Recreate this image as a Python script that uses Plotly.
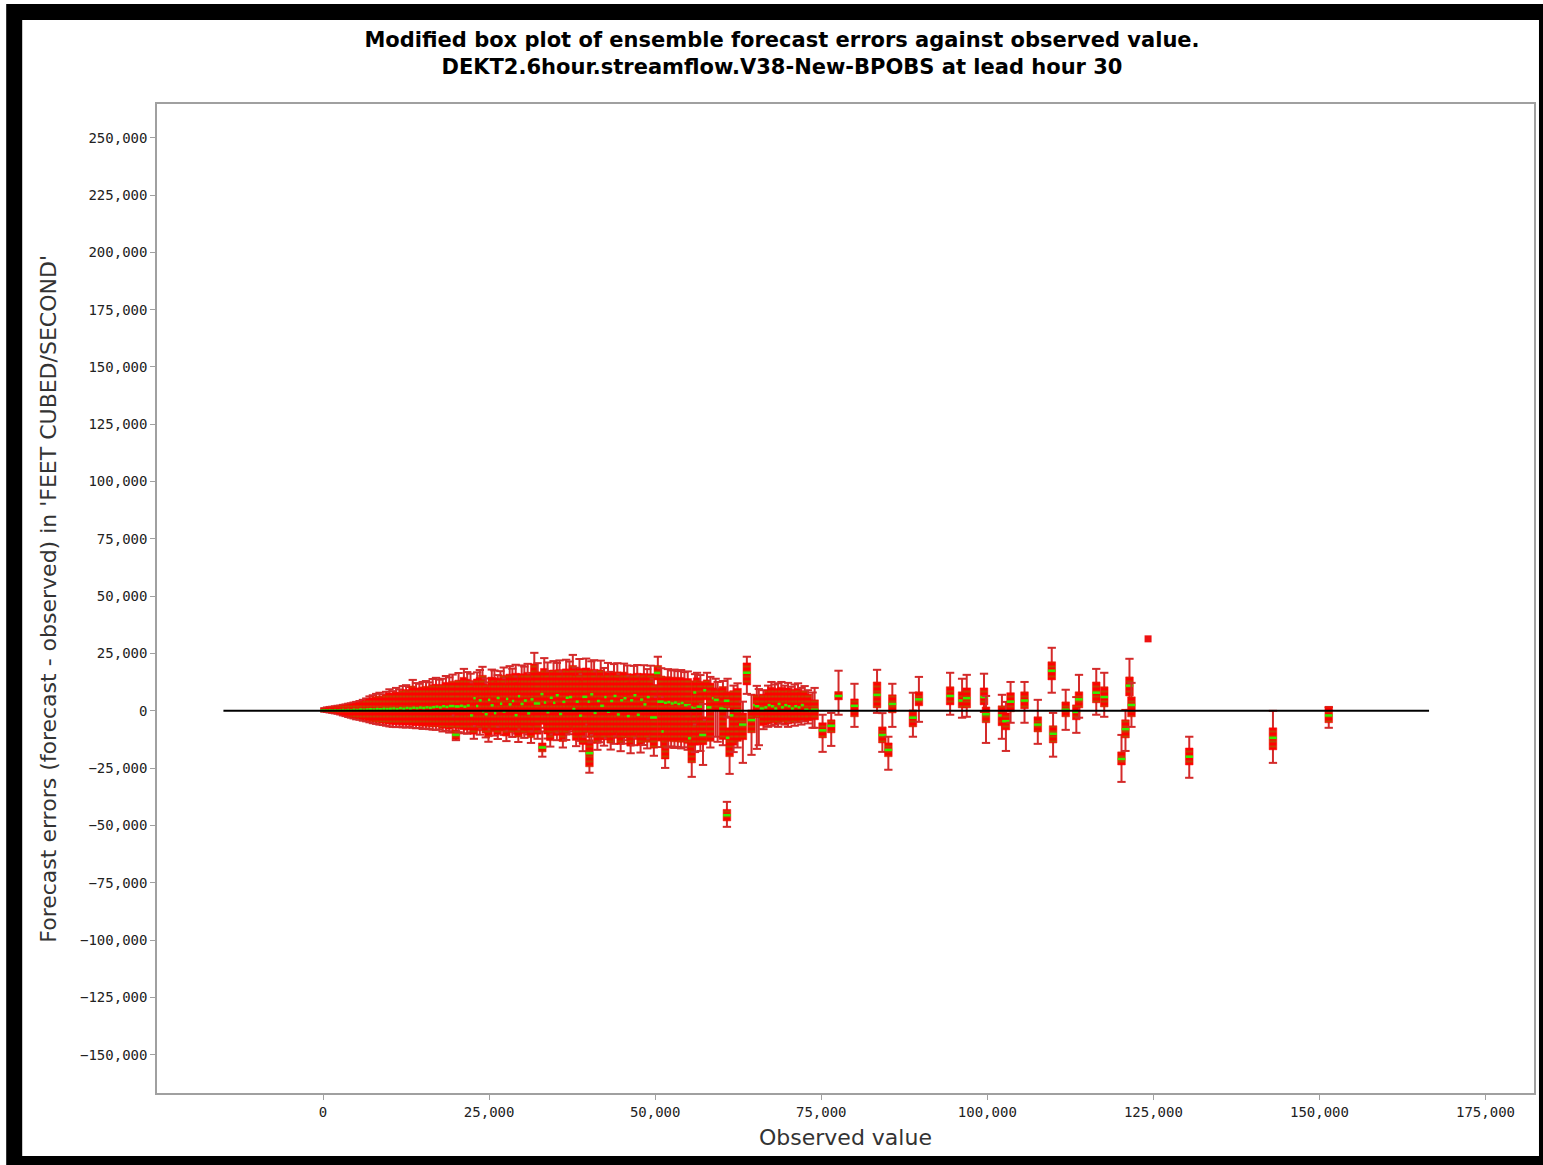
import plotly.graph_objects as go

# Observed streamflow (CFS) for each forecast, and the spread of the ensemble
# forecast errors (forecast - observed, CFS): whisker ends, box edges, median.
observed = [
    200, 600, 1000, 1400, 1800, 2200, 2600, 3000, 3400, 3800,
    4200, 4600, 5000, 5500, 6000, 6500, 7000, 7500, 8000, 8500,
    9000, 9500, 10000,
    10500, 11000, 11500, 12000, 12500, 13000, 13500, 14000, 14500, 15000,
    15500, 16000, 16500, 17000, 17500, 18000, 18500, 19000, 19500, 20000,
    20400, 21200, 21700,
    22200, 22700, 23200, 23600, 24000, 24500, 24900, 25400, 25800, 26300,
    26700, 27200, 27600, 28100, 28500, 29000, 29400, 29900, 30300, 30800,
    31300, 31800, 32300, 33000, 33300, 33800, 34200, 34700,
    35200, 35600, 36100, 36600, 37100, 37600, 38100, 38600, 39100, 39600,
    40100, 40400, 40800, 41300, 41800, 42300, 42900, 43300, 43800, 44300,
    44800, 45300, 45800, 46300, 46800, 47300, 47800, 48300, 48800, 49300,
    49800, 50400,
    50900, 51500, 51900, 52400, 52900, 53400, 53900, 54400, 54900, 55500,
    56000, 56300, 56800, 57200, 57800, 58300, 59100, 59400, 60200, 60800,
    60900, 61200, 61800, 62400, 63200, 63800, 64500, 65300, 65600, 66300,
    67000, 67500, 68000, 68500, 69000, 69500, 70000, 70500, 71000, 71500,
    72000, 72500, 73000, 73700, 74000, 75200, 76500,
    77600, 80000, 83400, 84200, 85100, 85700, 88800, 89700, 94400, 96200,
    96900, 99500, 99800, 102200, 102800, 103500, 105600, 107600, 109700, 109900,
    111800, 113400, 113800, 116400, 117600, 120200, 120800, 121400, 121700, 130400,
    143000, 151400,
]
err_low = [
    -400, -500, -700, -900, -1100, -1300, -1600, -2000, -2300, -2700,
    -3000, -3300, -3700, -3900, -4300, -4600, -5000, -5400, -5700, -6000,
    -6200, -6500, -6800,
    -7000, -7100, -6900, -7200, -7300, -7000, -7400, -7600, -7500, -7900,
    -7700, -8000, -8200, -8300, -8100, -9000, -8700, -9500, -8900, -12800,
    -9300, -9800, -10000,
    -9400, -12200, -6600, -10400, -7900, -11600, -13500, -8100, -10800, -12300,
    -7000, -10500, -13200, -8700, -11400, -9900, -13600, -8100, -11800, -10300,
    -14000, -9000, -12200, -20000, -7400, -12100, -15600, -10300,
    -12800, -9500, -16000, -12700, -10200, -9000, -15400, -13100, -17600, -11300,
    -27000, -13800, -10500, -17000, -13700, -15200, -12000, -16900, -14400, -11100,
    -17600, -14300, -12800, -18500, -15000, -11700, -18200, -14900, -16400, -12100,
    -19600, 6000,
    -15800, -24900, -16000, -15500, -16200, -15700, -16400, -15900, -17000, -28800,
    -18000, -6000, -17500, -23600, -4000, -16000, -11300, -13500, -15000, -50600,
    -2600, -27500, -18000, -16000, -22700, 7400, -19200, -16600, -15000, -8000,
    -7000, -6500, -6000, -7000, -5500, -6000, -7000, -5000, -6500, -5000,
    -6000, -4500, -5500, -7400, -7400, -17900, -15300,
    -1700, -7000, -900, -17900, -25700, -7000, -11300, -4800, -1700, -3000,
    -2600, -500, -14000, -12200, -17500, -5200, -5200, -14400, 7900, -20000,
    -8300, -9600, -3000, -1700, -2600, -31000, -17500, 400, -7000, -29200,
    -22700, -7400,
]
err_q1 = [
    -300, -400, -500, -700, -900, -1000, -1300, -1600, -1900, -2200,
    -2500, -2800, -3100, -3300, -3600, -3900, -4200, -4600, -4800, -5100,
    -5300, -5500, -5700,
    -5900, -6000, -5800, -6100, -6200, -5900, -6300, -6400, -6300, -6700,
    -6500, -6800, -6900, -7000, -6800, -7600, -7300, -8000, -7500, -12400,
    -7800, -8200, -8400,
    -7900, -10200, -5500, -8700, -6600, -9700, -11300, -6800, -9000, -10300,
    -5800, -8800, -11000, -7300, -9500, -8300, -11400, -6800, -9900, -8600,
    -11700, -6500, -10200, -17900, -5900, -10100, -13000, -8600,
    -10700, -7900, -13400, -10600, -8500, -7000, -12900, -11000, -14700, -9400,
    -24400, -11500, -8800, -14200, -11400, -12700, -10000, -14100, -12000, -9300,
    -14700, -11900, -10700, -15400, -12500, -9800, -15200, -12400, -13700, -10100,
    -16300, 13500,
    -13200, -21000, -13300, -12900, -13500, -13100, -13700, -13200, -14200, -22700,
    -15000, 1700, -14600, -14800, 4800, -13300, 900, 400, -12500, -48000,
    1300, -20000, -15000, -13300, -12600, 11300, -9600, -2600, -3000, -6500,
    -5700, -5200, -4800, -5700, -4400, -4800, -5700, -4000, -5300, -4000,
    -4800, -3600, -4400, -3000, -3900, -11800, -9600,
    4800, -2600, 1300, -14000, -20000, -900, -7000, 2200, 2600, 1300,
    1300, 2600, -5200, -6500, -8300, -400, 900, -9200, 13500, -14000,
    -2600, -3900, 1300, 3500, 1700, -23600, -11800, 6500, -2600, -23600,
    -17000, -5200,
]
err_median = [
    200, 300, 200, 300, 200, 300, 200, 300, 400, 300,
    400, 300, 500, 400, 600, 500, 600, 700, 600, 800,
    700, 900, 800,
    900, 1000, 800, 1100, 900, 1200, 1000, 1300, 1100, 1400,
    1200, 1500, 1300, 1600, 1800, 1500, 2000, 1700, 2100, -10400,
    1900, 2200, 1800,
    2300, -2000, 5500, 2100, 4600, -200, -1500, 4800, 2400, -1000,
    5600, 3100, -300, 5200, 2800, 4300, -1900, 6400, 3000, 4500,
    -1100, 5000, 3200, -16000, 7300, 3600, -600, 5700,
    3500, 6800, -1400, 3900, 5700, 6000, 800, 4000, -2100, 6100,
    -18500, 4000, 7200, -900, 4300, 2200, 6000, -400, 4300, 6500,
    -1600, 4600, 5500, -2300, 4600, 6800, -1700, 4900, 2800, 6000,
    -2900, 16500,
    4000, -9000, 3500, 3800, 3200, 3600, 3000, 3400, 2500, -12000,
    1500, 8000, 1800, -10500, 9000, 1500, 5500, 4800, 1000, -45500,
    4400, -11800, -2000, 0, -6000, 16600, -4000, 2500, 2000, 1000,
    1500, 2500, 2000, 1000, 3000, 1500, 2500, 2000, 1000, 2000,
    1500, 2500, 500, 0, 500, -8500, -6500,
    6500, 2200, 7000, -10500, -17000, 3000, -3000, 5000, 6500, 4500,
    5500, 6000, -1500, -2000, -4500, 4000, 4500, -6000, 17500, -10000,
    500, -500, 5000, 7900, 6000, -21000, -8000, 11000, 2600, -20000,
    -11800, -2000,
]
err_q3 = [
    1000, 1200, 1400, 1500, 1700, 1900, 2000, 2200, 2400, 2600,
    2800, 3000, 3300, 3600, 4000, 4500, 5200, 5700, 6200, 6400,
    6100, 6900, 7800,
    7200, 8200, 7700, 8900, 9300, 8600, 10800, 10000, 9800, 10400,
    10700, 10300, 11400, 11600, 11200, 11500, 12400, 12000, 12900, -8300,
    13400, 14600, 13800,
    13200, 10100, 13900, 14500, 15500, 11600, 10200, 14700, 14400, 12800,
    14200, 15500, 11700, 16000, 15000, 16400, 12300, 16200, 15800, 16800,
    13500, 20500, 17000, -14000, 18500, 17300, 14300, 17800,
    17100, 18000, 14100, 18300, 17600, 19800, 15400, 18500, 13100, 18700,
    -12600, 17700, 18100, 14200, 17900, 15300, 17100, 13900, 16700, 17000,
    13200, 16900, 16200, 12500, 16100, 16400, 12600, 16300, 14900, 16200,
    11500, 19800,
    15200, 0, 14900, 14400, 14700, 14200, 14600, 13800, 14100, -3900,
    13100, 14400, 12800, -2600, 13500, 12100, 10000, 9200, 10600, -43000,
    8300, -7400, 8800, 9800, -900, 20900, 400, 7000, 6000, 7300,
    9000, 10300, 9400, 9800, 10300, 9000, 10000, 8600, 9400, 9800,
    8200, 8800, 7300, 3000, 4800, -5200, -3900,
    8400, 5200, 12600, -7000, -14000, 7000, 400, 8300, 10500, 8300,
    10000, 10000, 1700, 2200, -900, 7900, 8300, -2600, 21400, -6500,
    3900, 2600, 8300, 12600, 10500, -17900, -3900, 14800, 6100, -16200,
    -7400, 1700,
]
err_high = [
    1200, 1500, 1700, 1800, 2000, 2200, 2300, 2600, 2800, 3100,
    3300, 3600, 3900, 4300, 4800, 5400, 6300, 6800, 7400, 7900,
    7200, 8300, 9400,
    8600, 10000, 9300, 10800, 11200, 10400, 13500, 12100, 11800, 12600,
    13000, 12400, 13900, 14400, 13600, 14000, 15200, 14600, 15800, -2000,
    16500, 18300, 16900,
    16200, 12400, 16800, 17800, 19200, 14100, 12400, 18000, 17600, 15600,
    17300, 18900, 14200, 19500, 18400, 20100, 15000, 19800, 19300, 20500,
    16400, 25300, 20800, -9000, 23000, 21100, 17400, 21700,
    20900, 22000, 17200, 22300, 21500, 24400, 18800, 22600, 16000, 22800,
    -6000, 21600, 22100, 17300, 21900, 18700, 20900, 17000, 20400, 20800,
    16100, 20600, 19800, 15300, 19600, 20000, 15400, 19900, 18200, 19700,
    14000, 23600,
    18600, 6000, 18200, 17600, 18000, 17300, 17800, 16900, 17200, 2000,
    16000, 16600, 15600, 3000, 16600, 14800, 14000, 12600, 13000, -39700,
    14000, -3000, 11000, 12000, 4000, 23600, 7000, 10900, 9500, 9000,
    11000, 12600, 11500, 12000, 12600, 11000, 12200, 10500, 11500, 12000,
    10000, 10800, 9000, 8000, 10000, -1700, -900,
    17500, 11800, 17900, -1000, -11300, 11800, 7900, 14800, 16600, 14000,
    15700, 16200, 6500, 7000, 3900, 12600, 12600, 4800, 27500, -900,
    9200, 6000, 15700, 18300, 16600, -10500, 400, 22700, 12200, -11300,
    0, 1700,
]

# Forecast whose ensemble collapsed to a single value
point_observed = [124200]
point_error = [31400]

# Zero-error reference line
zero_line_x = [-15000, 166500]
zero_line_y = [0, 0]

x_ticks = [0, 25000, 50000, 75000, 100000, 125000, 150000, 175000]
y_ticks = [-150000, -125000, -100000, -75000, -50000, -25000, 0,
           25000, 50000, 75000, 100000, 125000, 150000, 175000, 200000,
           225000, 250000]

assert len({len(observed), len(err_low), len(err_q1), len(err_median),
            len(err_q3), len(err_high)}) == 1

BOX_W = 1150   # box width in CFS
CAP_W = 1250   # whisker cap width in CFS

WHISKER = dict(color="#d42a2a", width=2)
MEDIAN = dict(color="#33ee00", width=2.5)
STRIPES = dict(shape="-", fgcolor="#7f8c00", bgcolor="#ff0000", size=5,
               solidity=0.4, fillmode="overlay")

fig = go.Figure()

# Each forecast is drawn in turn (whisker, box, median) so that later boxes
# sit on top of earlier ones.
for x, lo, q1, med, q3, hi in zip(observed, err_low, err_q1, err_median,
                                  err_q3, err_high):
    cl, cr = x - CAP_W / 2, x + CAP_W / 2
    bl, br = x - BOX_W / 2, x + BOX_W / 2
    fig.add_trace(go.Scatter(
        x=[x, x, None, cl, cr, None, cl, cr],
        y=[lo, hi, None, lo, lo, None, hi, hi],
        mode="lines", line=WHISKER, hoverinfo="skip", showlegend=False))
    fig.add_trace(go.Scatter(
        x=[bl, br, br, bl, bl], y=[q1, q1, q3, q3, q1],
        mode="lines", fill="toself", fillcolor="#ff0000",
        fillpattern=STRIPES, line=dict(color="#ff0000", width=0.5),
        hoverinfo="skip", showlegend=False))
    fig.add_trace(go.Scatter(
        x=[bl, br], y=[med, med], mode="lines", line=MEDIAN,
        hoverinfo="skip", showlegend=False))

fig.add_trace(go.Scatter(x=point_observed, y=point_error, mode="markers",
                         marker=dict(symbol="square", size=7, color="#ee1111"),
                         hoverinfo="skip", showlegend=False))
fig.add_trace(go.Scatter(x=zero_line_x, y=zero_line_y, mode="lines",
                         line=dict(color="black", width=2),
                         hoverinfo="skip", showlegend=False))

L, R, T, B = 157, 7, 104, 72
W, H = 1543, 1165
PW, PH = W - L - R, H - T - B


def px_x(p):
    return (p - L) / PW


def px_y(p):
    return (H - B - p) / PH


tick_font = dict(family="DejaVu Sans Mono", size=14, color="#222222")
axis_common = dict(showline=True, mirror=True, linecolor="#a0a0a0",
                   linewidth=1.5, ticks="outside", ticklen=5,
                   tickcolor="#a0a0a0", tickwidth=1, showgrid=False,
                   zeroline=False, tickfont=tick_font,
                   tickformat=",d")
label_font = dict(family="DejaVu Sans", size=22, color="#333333")

fig.update_layout(
    width=W, height=H,
    margin=dict(l=L, r=R, t=T, b=B, pad=0),
    paper_bgcolor="white", plot_bgcolor="white",
    title=dict(
        text="Modified box plot of ensemble forecast errors against observed value.<br>"
             "DEKT2.6hour.streamflow.V38-New-BPOBS at lead hour 30",
        font=dict(family="DejaVu Sans", size=21, color="black", weight="bold"),
        x=782 / W, xanchor="center", xref="container",
        y=1 - 47 / H, yanchor="top", yref="container",
    ),
    xaxis=dict(range=[-25000, 182300], tickvals=x_ticks, **axis_common),
    yaxis=dict(range=[-166700, 264700], tickvals=y_ticks, **axis_common),
    annotations=[
        dict(text="Observed value", xref="paper", yref="paper",
             x=0.5, y=px_y(1137), xanchor="center", yanchor="middle",
             showarrow=False, font=label_font),
        dict(text="Forecast errors (forecast - observed) in 'FEET CUBED/SECOND'",
             xref="paper", yref="paper", x=px_x(48), y=0.5,
             xanchor="center", yanchor="middle", textangle=-90,
             showarrow=False, font=label_font),
    ],
    shapes=[
        dict(type="rect", xref="paper", yref="paper",
             x0=px_x(14), x1=px_x(1549), y0=px_y(1164), y1=px_y(12),
             line=dict(color="black", width=16), fillcolor="rgba(0,0,0,0)"),
    ],
)

fig.write_html("out.html", config={"displayModeBar": False})
